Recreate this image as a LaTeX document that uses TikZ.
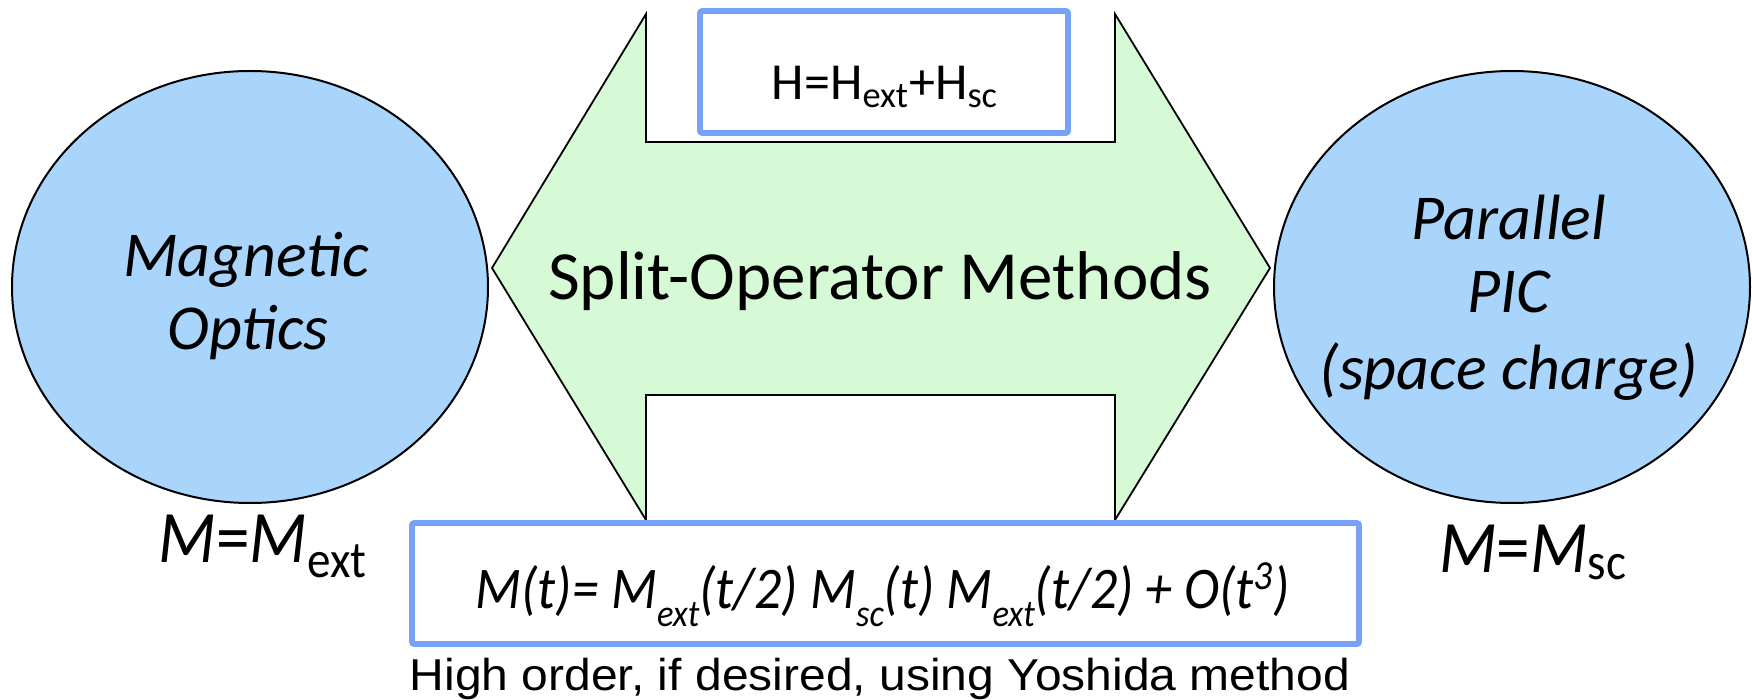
\documentclass[tikz,border=0pt]{standalone}
\usepackage{fontspec}
\setmainfont{Carlito}
\newfontfamily\arialfont{Liberation Sans}
\usetikzlibrary{shapes.geometric}

\definecolor{blobfill}{HTML}{A9D5FC}
\definecolor{arrowfill}{HTML}{D5FAD5}
\definecolor{boxline}{HTML}{78A2F8}

\tikzset{
  blob/.style={ellipse, draw=black, line width=1pt, fill=blobfill,
    minimum width=238pt, minimum height=216pt, inner sep=0pt, outer sep=0pt},
  framebox/.style={draw=boxline, line width=2.8pt, fill=white, rounded corners=1pt},
  splitarrow/.style={draw=black, line width=0.9pt, fill=arrowfill, line join=miter},
  blobtext/.style={anchor=base, inner sep=0pt, font=\fontsize{32}{32}\selectfont\itshape},
  bigtext/.style={anchor=base, inner sep=0pt, font=\fontsize{34.5}{34.5}\selectfont},
  hamtext/.style={anchor=base, inner sep=0pt, font=\fontsize{26}{26}\selectfont},
  formtext/.style={anchor=base, inner sep=0pt, font=\fontsize{29.5}{29.5}\selectfont\itshape},
  notetext/.style={anchor=base, inner sep=0pt, font=\fontsize{24}{24}\selectfont\arialfont},
  maptext/.style={anchor=base, inner sep=0pt, font=\fontsize{37}{37}\selectfont},
}
% subscript set a little lower, as in the formula box
\newcommand{\lowsub}[1]{\raisebox{-0.32em}{\fontsize{19}{19}\selectfont #1}}

\begin{document}
\begin{tikzpicture}[x=0.5pt, y=-0.5pt]
\useasboundingbox (0,0) rectangle (1752,700);

% the two stages
\node[blob] (optics) at (250,287) {};
\node[blob] (pic) at (1512,287) {};

% double arrow with notches for the two boxes
\coordinate (ltip) at (492,268);
\coordinate (rtip) at (1270,268);
\coordinate (ul) at (646,14);
\coordinate (ur) at (1115,14);
\coordinate (ll) at (646,520);
\coordinate (lr) at (1115,520);
\draw[splitarrow] (ltip) -- (ul) -- (646,142) -- (1115,142) -- (ur) -- (rtip)
  -- (lr) -- (1115,395) -- (646,395) -- (ll) -- cycle;

% boxes
\draw[framebox] (700,11) rectangle (1068,133);
\draw[framebox] (412,523) rectangle (1359,644);

% texts
\node[blobtext] (mag) at (246,277) {Magnetic};
\node[blobtext] (opt) at (248,350) {Optics};
\node[blobtext] (par) at (1509,240) {Parallel};
\node[blobtext] (picl) at (1509,313) {PIC};
\node[blobtext] (sc) at (1509,390) {(space charge)};
\node[bigtext] (split) at (880,300) {Split-Operator Methods};
\node[hamtext] (ham) at (885,100) {H=H\textsubscript{ext}+H\textsubscript{sc}};
\node[formtext] (form) at (883,608) {\scalebox{0.91}[1]{M(t)= M\lowsub{ext}(t/2) M\lowsub{sc}(t) M\lowsub{ext}(t/2) + O(t\textsuperscript{3})}};
\node[notetext] (note) at (880,690) {\scalebox{1}[0.93]{High order, if desired, using Yoshida method}};
\node[maptext] (mext) at (263,562) {\scalebox{0.91}[1]{\textit{M}=\textit{M}\textsubscript{ext}}};
\node[maptext] (msc) at (1533,572) {\scalebox{0.91}[1]{\textit{M}=\textit{M}\textsubscript{sc}}};
\end{tikzpicture}
\end{document}
